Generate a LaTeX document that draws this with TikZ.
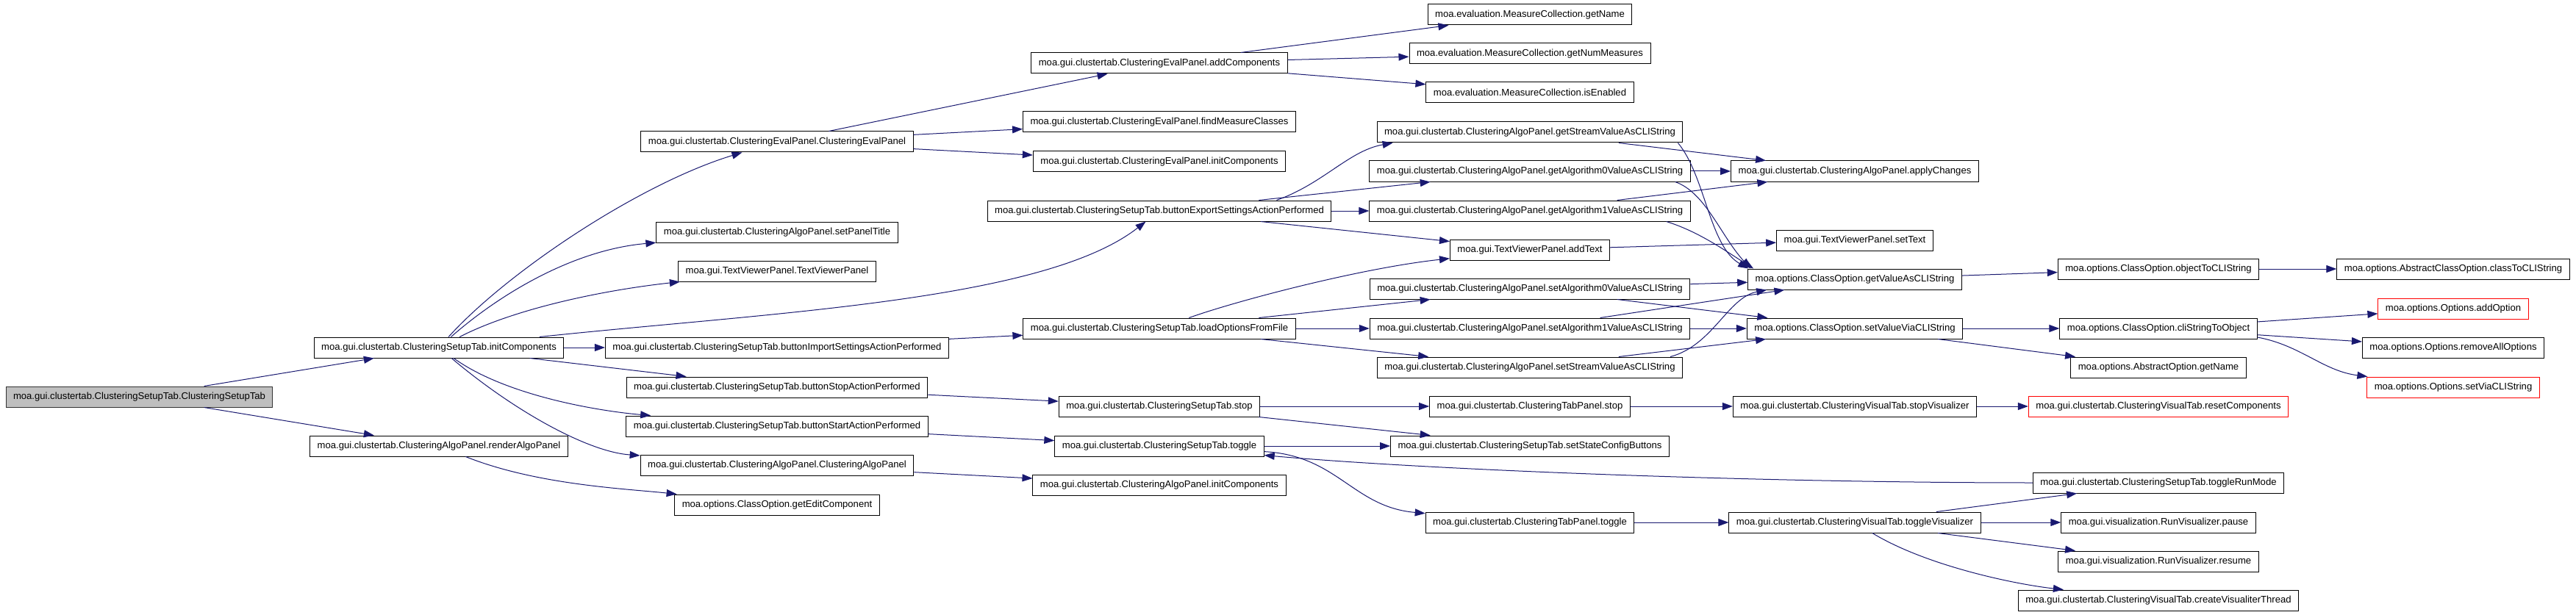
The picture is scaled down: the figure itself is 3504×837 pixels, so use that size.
\documentclass[tikz,border=0pt]{standalone}
\usepackage{fontspec}
\setmainfont{Liberation Sans}
\usepackage{tikz}
\usetikzlibrary{arrows.meta}
\usepackage{xcolor}
\definecolor{EdgeBlue}{RGB}{25, 25, 112}
\definecolor{RootGrey}{RGB}{191, 191, 191}
\definecolor{CutRed}{RGB}{255, 0, 0}

\begin{document}
\begin{tikzpicture}[
      x=1pt, y=-1pt,
      box/.style={draw=black, fill=white, line width=1pt, minimum height=28pt,
                  inner xsep=10pt, inner ysep=0pt,
                  font=\fontsize{13.1}{15}\selectfont},
      rootbox/.style={box, fill=RootGrey, draw=black!80},
      redbox/.style={box, draw=CutRed},
      arr/.style={-{Triangle[length=14pt, width=10pt]}, line width=1pt, EdgeBlue}
    ]
      \useasboundingbox (0,0) rectangle (3504,837);

      \node[rootbox] (root) at (189.5,540) {moa.gui.clustertab.ClusteringSetupTab.ClusteringSetupTab};

      \node[box] (initcomp) at (597,473) {moa.gui.clustertab.ClusteringSetupTab.initComponents};
      \node[box] (renderalgo) at (597,607) {moa.gui.clustertab.ClusteringAlgoPanel.renderAlgoPanel};

      \node[box] (evalctor) at (1057,193) {moa.gui.clustertab.ClusteringEvalPanel.ClusteringEvalPanel};
      \node[box] (paneltitle) at (1057,316) {moa.gui.clustertab.ClusteringAlgoPanel.setPanelTitle};
      \node[box] (viewerctor) at (1057,369) {moa.gui.TextViewerPanel.TextViewerPanel};
      \node[box] (btnimport) at (1057,473) {moa.gui.clustertab.ClusteringSetupTab.buttonImportSettingsActionPerformed};
      \node[box] (btnstop) at (1057,527) {moa.gui.clustertab.ClusteringSetupTab.buttonStopActionPerformed};
      \node[box] (btnstart) at (1057,580) {moa.gui.clustertab.ClusteringSetupTab.buttonStartActionPerformed};
      \node[box] (algoctor) at (1057,633) {moa.gui.clustertab.ClusteringAlgoPanel.ClusteringAlgoPanel};
      \node[box] (editcomp) at (1057,687) {moa.options.ClassOption.getEditComponent};

      \node[box] (addcomp) at (1577,86) {moa.gui.clustertab.ClusteringEvalPanel.addComponents};
      \node[box] (findmeasure) at (1577,166) {moa.gui.clustertab.ClusteringEvalPanel.findMeasureClasses};
      \node[box] (evalinit) at (1577,220) {moa.gui.clustertab.ClusteringEvalPanel.initComponents};
      \node[box] (btnexport) at (1577,287) {moa.gui.clustertab.ClusteringSetupTab.buttonExportSettingsActionPerformed};
      \node[box] (loadopts) at (1577,447) {moa.gui.clustertab.ClusteringSetupTab.loadOptionsFromFile};
      \node[box] (setupstop) at (1577,553) {moa.gui.clustertab.ClusteringSetupTab.stop};
      \node[box] (setuptoggle) at (1577,607) {moa.gui.clustertab.ClusteringSetupTab.toggle};
      \node[box] (algoinit) at (1577,660) {moa.gui.clustertab.ClusteringAlgoPanel.initComponents};

      \node[box] (mcname) at (2081,20) {moa.evaluation.MeasureCollection.getName};
      \node[box] (mcnum) at (2081,73) {moa.evaluation.MeasureCollection.getNumMeasures};
      \node[box] (mcenabled) at (2081,126) {moa.evaluation.MeasureCollection.isEnabled};
      \node[box] (getstream) at (2081,180) {moa.gui.clustertab.ClusteringAlgoPanel.getStreamValueAsCLIString};
      \node[box] (getalgzero) at (2081,233) {moa.gui.clustertab.ClusteringAlgoPanel.getAlgorithm0ValueAsCLIString};
      \node[box] (getalgone) at (2081,287) {moa.gui.clustertab.ClusteringAlgoPanel.getAlgorithm1ValueAsCLIString};
      \node[box] (addtext) at (2081,340) {moa.gui.TextViewerPanel.addText};
      \node[box] (setalgzero) at (2081,393) {moa.gui.clustertab.ClusteringAlgoPanel.setAlgorithm0ValueAsCLIString};
      \node[box] (setalgone) at (2081,447) {moa.gui.clustertab.ClusteringAlgoPanel.setAlgorithm1ValueAsCLIString};
      \node[box] (setstream) at (2081,500) {moa.gui.clustertab.ClusteringAlgoPanel.setStreamValueAsCLIString};
      \node[box] (tabstop) at (2081,553) {moa.gui.clustertab.ClusteringTabPanel.stop};
      \node[box] (stateconfig) at (2081,607) {moa.gui.clustertab.ClusteringSetupTab.setStateConfigButtons};
      \node[box] (tabtoggle) at (2081,711) {moa.gui.clustertab.ClusteringTabPanel.toggle};

      \node[box] (applychanges) at (2523,233) {moa.gui.clustertab.ClusteringAlgoPanel.applyChanges};
      \node[box] (settext) at (2523,327) {moa.gui.TextViewerPanel.setText};
      \node[box] (getvalue) at (2523,380) {moa.options.ClassOption.getValueAsCLIString};
      \node[box] (setvalue) at (2523,447) {moa.options.ClassOption.setValueViaCLIString};
      \node[box] (stopvis) at (2523,553) {moa.gui.clustertab.ClusteringVisualTab.stopVisualizer};
      \node[box] (togglevis) at (2523,711) {moa.gui.clustertab.ClusteringVisualTab.toggleVisualizer};

      \node[box] (objtocli) at (2936,366) {moa.options.ClassOption.objectToCLIString};
      \node[box] (clitoobj) at (2936,447) {moa.options.ClassOption.cliStringToObject};
      \node[box] (optgetname) at (2936,500) {moa.options.AbstractOption.getName};
      \node[redbox] (resetcomp) at (2936,553) {moa.gui.clustertab.ClusteringVisualTab.resetComponents};
      \node[box] (runmode) at (2936,657) {moa.gui.clustertab.ClusteringSetupTab.toggleRunMode};
      \node[box] (vispause) at (2936,711) {moa.gui.visualization.RunVisualizer.pause};
      \node[box] (visresume) at (2936,764) {moa.gui.visualization.RunVisualizer.resume};
      \node[box] (visthread) at (2936,817) {moa.gui.clustertab.ClusteringVisualTab.createVisualiterThread};

      \node[box] (classtocli) at (3337,366) {moa.options.AbstractClassOption.classToCLIString};
      \node[redbox] (addoption) at (3337,420) {moa.options.Options.addOption};
      \node[box] (removeall) at (3337,473) {moa.options.Options.removeAllOptions};
      \node[redbox] (setvia) at (3337,527) {moa.options.Options.setViaCLIString};

      \draw[arr] (root) -- (initcomp);
      \draw[arr] (root) -- (renderalgo);

      \draw[arr] (initcomp) .. controls (690,370) and (870,250) .. (evalctor);
      \draw[arr] (initcomp) .. controls (680,400) and (780,340) .. (paneltitle);
      \draw[arr] (initcomp) .. controls (700,420) and (820,395) .. (viewerctor);
      \draw[arr] (initcomp) .. controls (1050,425) and (1420,410) .. (btnexport);
      \draw[arr] (initcomp) -- (btnimport);
      \draw[arr] (initcomp) -- (btnstop);
      \draw[arr] (initcomp) .. controls (690,540) and (820,560) .. (btnstart);
      \draw[arr] (initcomp) .. controls (700,560) and (800,615) .. (algoctor);
      \draw[arr] (renderalgo) .. controls (730,660) and (850,665) .. (editcomp);

      \draw[arr] (evalctor) -- (addcomp);
      \draw[arr] (evalctor) -- (findmeasure);
      \draw[arr] (evalctor) -- (evalinit);
      \draw[arr] (addcomp) -- (mcname);
      \draw[arr] (addcomp) -- (mcnum);
      \draw[arr] (addcomp) -- (mcenabled);

      \draw[arr] ([xshift=-75pt]btnexport.north east) .. controls (1800,250) and (1835,205) .. ([xshift=22pt]getstream.south west);
      \draw[arr] (btnexport) -- (getalgzero);
      \draw[arr] (btnexport) -- (getalgone);
      \draw[arr] (btnexport) -- (addtext);
      \draw[arr] (btnimport) -- (loadopts);
      \draw[arr] (loadopts) .. controls (1680,410) and (1850,365) .. (addtext);
      \draw[arr] (loadopts) -- (setalgzero);
      \draw[arr] (loadopts) -- (setalgone);
      \draw[arr] (loadopts) -- (setstream);
      \draw[arr] (btnstop) -- (setupstop);
      \draw[arr] (btnstart) -- (setuptoggle);
      \draw[arr] (algoctor) -- (algoinit);

      \draw[arr] (setupstop) -- (tabstop);
      \draw[arr] (setupstop) -- (stateconfig);
      \draw[arr] (setuptoggle) -- (stateconfig);
      \draw[arr] (setuptoggle) .. controls (1820,620) and (1840,690) .. (tabtoggle);
      \draw[arr] (runmode) .. controls (2400,657) and (1950,640) .. (setuptoggle);

      \draw[arr] (getstream) -- (applychanges);
      \draw[arr] ([xshift=-7pt]getstream.south east) .. controls (2320,240) and (2325,335) .. ([xshift=1pt]getvalue.north west);
      \draw[arr] (getalgzero) -- (applychanges);
      \draw[arr] ([xshift=-21pt]getalgzero.south east) .. controls (2320,262) and (2340,320) .. ([xshift=4pt]getvalue.north west);
      \draw[arr] (getalgone) -- (applychanges);
      \draw[arr] ([xshift=-33pt]getalgone.south east) .. controls (2310,315) and (2345,340) .. ([xshift=8pt]getvalue.north west);
      \draw[arr] (addtext) -- (settext);
      \draw[arr] (setalgzero) -- (getvalue);
      \draw[arr] (setalgzero) -- (setvalue);
      \draw[arr] (setalgone) -- (setvalue);
      \draw[arr] (setalgone) -- (getvalue);
      \draw[arr] (setstream) -- (setvalue);
      \draw[arr] ([xshift=-17pt]setstream.north east) .. controls (2330,470) and (2350,405) .. ([xshift=26pt]getvalue.south west);
      \draw[arr] (tabstop) -- (stopvis);
      \draw[arr] (tabtoggle) -- (togglevis);

      \draw[arr] (getvalue) -- (objtocli);
      \draw[arr] (setvalue) -- (clitoobj);
      \draw[arr] (setvalue) -- (optgetname);
      \draw[arr] (stopvis) -- (resetcomp);
      \draw[arr] (togglevis) -- (runmode);
      \draw[arr] (togglevis) -- (vispause);
      \draw[arr] (togglevis) -- (visresume);
      \draw[arr] (togglevis) .. controls (2620,770) and (2740,795) .. (visthread);

      \draw[arr] (objtocli) -- (classtocli);
      \draw[arr] (clitoobj) -- (addoption);
      \draw[arr] (clitoobj) -- (removeall);
      \draw[arr] ([yshift=-12pt]clitoobj.east) .. controls (3130,470) and (3160,505) .. (setvia);
    \end{tikzpicture}
\end{document}
